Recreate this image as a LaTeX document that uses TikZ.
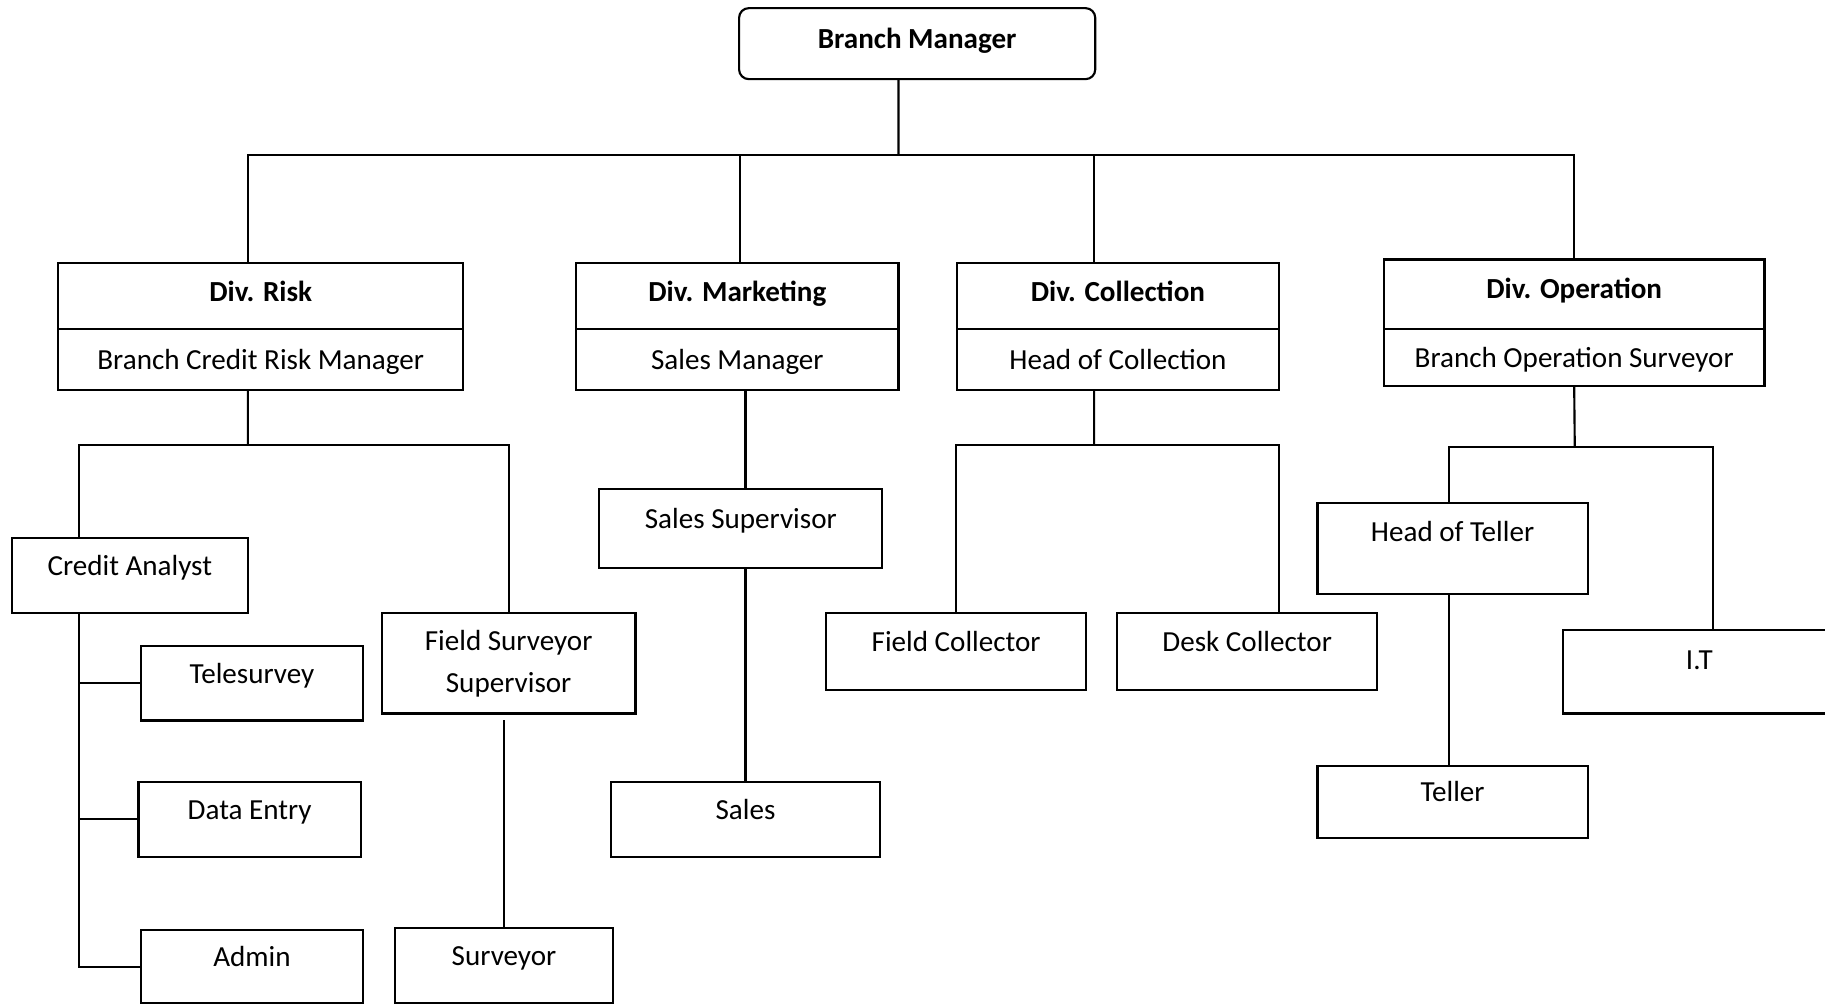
\documentclass[tikz,border=0pt]{standalone}
\usepackage{fontspec}
\setmainfont{Carlito}
\usetikzlibrary{positioning}

\tikzset{every picture/.style={line width=1.1pt}}
\tikzset{
  tbox/.style 2 args={draw, inner sep=0pt, outer sep=0pt, minimum width=#1*0.6pt, minimum height=#2*0.6pt, font=\fontsize{15pt}{21.6pt}\selectfont},
  post/.style 2 args={tbox={#1}{#2}, text height=12pt, text depth=12pt},
  divhead/.style 2 args={tbox={#1}{#2}, font=\fontsize{15pt}{18pt}\selectfont\bfseries, text height=10pt, text depth=4.5pt},
  divsub/.style 2 args={tbox={#1}{#2}, text height=12pt, text depth=2pt},
}

\begin{document}
\begin{tikzpicture}[x=0.6pt,y=0.6pt,yscale=-1,xscale=1]
	\useasboundingbox (0,0) rectangle (1568,863);

	% top
	\node[divhead={306}{61}, rounded corners=5pt] (bm) at (788,37.5) {Branch Manager};

	% divisions
	\node[divhead={348}{57}] (riskT) at (224,254.5) {Div. Risk};
	\node[divsub={348}{52}, below=0pt of riskT] (risk) {Branch Credit Risk Manager};
	\node[divhead={277}{57}] (markT) at (633.5,254.5) {Div. Marketing};
	\node[divsub={277}{52}, below=0pt of markT] (mark) {Sales Manager};
	\node[divhead={277}{57}] (collT) at (960.5,254.5) {Div. Collection};
	\node[divsub={277}{52}, below=0pt of collT] (coll) {Head of Collection};
	\node[divhead={327}{60}, text depth=6.3pt] (opT) at (1352.5,253) {Div. Operation};
	\node[divsub={327}{49}, below=0pt of opT] (op) {Branch Operation Surveyor};

	% risk staff
	\node[post={203}{65}] (ca) at (111.5,494.5) {Credit Analyst};
	\node[post={191}{64}] (tele) at (216.5,587) {Telesurvey};
	\node[post={191}{64}] (de) at (214.5,704) {Data Entry};
	\node[post={191}{63}] (adm) at (216.5,830.5) {Admin};
	\node[tbox={218}{86}, align=center] (fss) at (437,570) {Field Surveyor\\Supervisor};
	\node[post={188}{65}] (surv) at (433,829.5) {Surveyor};

	% marketing staff
	\node[post={243}{68}] (ss) at (636.5,454) {Sales Supervisor};
	\node[post={231}{64}] (sales) at (640.5,704) {Sales};

	% collection staff
	\node[post={223}{66}] (fc) at (821.5,560) {Field Collector};
	\node[post={223}{66}] (dc) at (1071.5,560) {Desk Collector};

	% operation staff
	\node[post={232}{78}, text depth=19pt] (hot) at (1248,471) {Head of Teller};
	\node[post={232}{62}] (tel) at (1248,689) {Teller};
	\node[post={234}{72}, text depth=14.3pt] (it) at (1460,577) {I.T};

	% main bus
	\coordinate (bus) at (772,133);
	\draw ([xshift=-9.6pt]bm.south) -- (bus);
	\draw ([xshift=-6.6pt]riskT.north) |- (bus);
	\draw (bus) -| ([xshift=1.5pt]markT.north);
	\draw (bus) -| ([xshift=-12.3pt]collT.north);
	\draw (bus) -| (opT.north);

	% risk branch
	\coordinate (riskbus) at (213,382);
	\draw ([xshift=-6.6pt]risk.south) -- (riskbus);
	\draw ([xshift=-26.1pt]ca.north) |- (riskbus) -| (fss.north);
	\draw ([xshift=-26.1pt]ca.south) |- (tele.west);
	\draw ([xshift=-26.1pt]ca.south) |- (de.west);
	\draw ([xshift=-26.1pt]ca.south) |- (adm.west);
	\coordinate (fssfoot) at ([yshift=3.6pt]fss.south);
	\draw (surv.north |- fssfoot) -- (surv.north);

	% marketing branch
	\draw (sales.north |- mark.south) -- (sales.north |- ss.north);
	\draw (sales.north |- ss.south) -- (sales.north);

	% collection branch
	\coordinate (collbus) at (940,382);
	\draw ([xshift=-12.3pt]coll.south) -- (collbus);
	\draw (fc.north) |- (collbus) -| ([xshift=16.5pt]dc.north);

	% operation branch
	\coordinate (opbus) at (1353,384);
	\draw (op.south) -- (opbus);
	\draw ([xshift=-1.8pt]hot.north) |- (opbus) -| ([xshift=7.2pt]it.north);
	\draw ([xshift=-1.8pt]hot.south) -- ([xshift=-1.8pt]tel.north);

\end{tikzpicture}
\end{document}
